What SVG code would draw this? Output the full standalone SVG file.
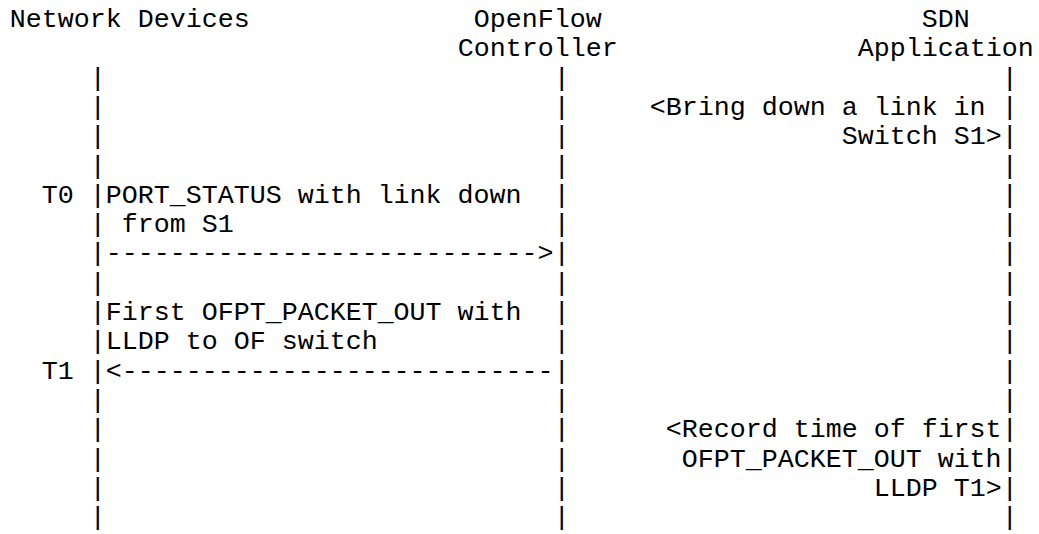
<svg xmlns="http://www.w3.org/2000/svg" width="1039" height="534" viewBox="0 0 1039 534">
<style>
text { font-family: "Liberation Mono", "Courier New", monospace; font-size: 26.67px; fill: #000; white-space: pre; }
</style>
<rect width="1039" height="534" fill="#fff"/>
<g id="node-network-devices">
  <text x="9.7" y="27">Network Devices</text>
  <text id="lifeline-network-devices"><tspan x="89.7" y="85.6">|</tspan><tspan x="89.7" y="114.9">|</tspan><tspan x="89.7" y="144.2">|</tspan><tspan x="89.7" y="173.5">|</tspan><tspan x="89.7" y="202.8">|</tspan><tspan x="89.7" y="232.1">|</tspan><tspan x="89.7" y="261.4">|</tspan><tspan x="89.7" y="290.7">|</tspan><tspan x="89.7" y="320">|</tspan><tspan x="89.7" y="349.3">|</tspan><tspan x="89.7" y="378.6">|</tspan><tspan x="89.7" y="407.9">|</tspan><tspan x="89.7" y="437.2">|</tspan><tspan x="89.7" y="466.5">|</tspan><tspan x="89.7" y="495.8">|</tspan><tspan x="89.7" y="525.1">|</tspan></text>
  <text x="41.7" y="202.8">T0</text>
  <text x="41.7" y="378.6">T1</text>
</g>
<g id="node-openflow-controller">
  <text x="473.7" y="27">OpenFlow</text>
  <text x="457.7" y="56.3">Controller</text>
  <text id="lifeline-controller"><tspan x="553.7" y="85.6">|</tspan><tspan x="553.7" y="114.9">|</tspan><tspan x="553.7" y="144.2">|</tspan><tspan x="553.7" y="173.5">|</tspan><tspan x="553.7" y="202.8">|</tspan><tspan x="553.7" y="232.1">|</tspan><tspan x="553.7" y="261.4">|</tspan><tspan x="553.7" y="290.7">|</tspan><tspan x="553.7" y="320">|</tspan><tspan x="553.7" y="349.3">|</tspan><tspan x="553.7" y="378.6">|</tspan><tspan x="553.7" y="407.9">|</tspan><tspan x="553.7" y="437.2">|</tspan><tspan x="553.7" y="466.5">|</tspan><tspan x="553.7" y="495.8">|</tspan><tspan x="553.7" y="525.1">|</tspan></text>
</g>
<g id="node-sdn-application">
  <text x="921.7" y="27">SDN</text>
  <text x="857.7" y="56.3">Application</text>
  <text id="lifeline-sdn-app"><tspan x="1001.7" y="85.6">|</tspan><tspan x="1001.7" y="114.9">|</tspan><tspan x="1001.7" y="144.2">|</tspan><tspan x="1001.7" y="173.5">|</tspan><tspan x="1001.7" y="202.8">|</tspan><tspan x="1001.7" y="232.1">|</tspan><tspan x="1001.7" y="261.4">|</tspan><tspan x="1001.7" y="290.7">|</tspan><tspan x="1001.7" y="320">|</tspan><tspan x="1001.7" y="349.3">|</tspan><tspan x="1001.7" y="378.6">|</tspan><tspan x="1001.7" y="407.9">|</tspan><tspan x="1001.7" y="437.2">|</tspan><tspan x="1001.7" y="466.5">|</tspan><tspan x="1001.7" y="495.8">|</tspan><tspan x="1001.7" y="525.1">|</tspan></text>
</g>
<g id="note-bring-down">
  <text x="649.7" y="114.9">&lt;Bring down a link in</text>
  <text x="841.7" y="144.2">Switch S1&gt;</text>
</g>
<g id="note-record-time">
  <text x="665.7" y="437.2">&lt;Record time of first</text>
  <text x="681.7" y="466.5">OFPT_PACKET_OUT with</text>
  <text x="873.7" y="495.8">LLDP T1&gt;</text>
</g>
<g id="connectors">
  <g id="msg-port-status">
    <text x="105.7" y="202.8">PORT_STATUS with link down</text>
    <text x="121.7" y="232.1">from S1</text>
    <text x="105.7" y="261.4">---------------------------&gt;</text>
  </g>
  <g id="msg-packet-out">
    <text x="105.7" y="320">First OFPT_PACKET_OUT with</text>
    <text x="105.7" y="349.3">LLDP to OF switch</text>
    <text x="105.7" y="378.6">&lt;---------------------------</text>
  </g>
</g>
</svg>
